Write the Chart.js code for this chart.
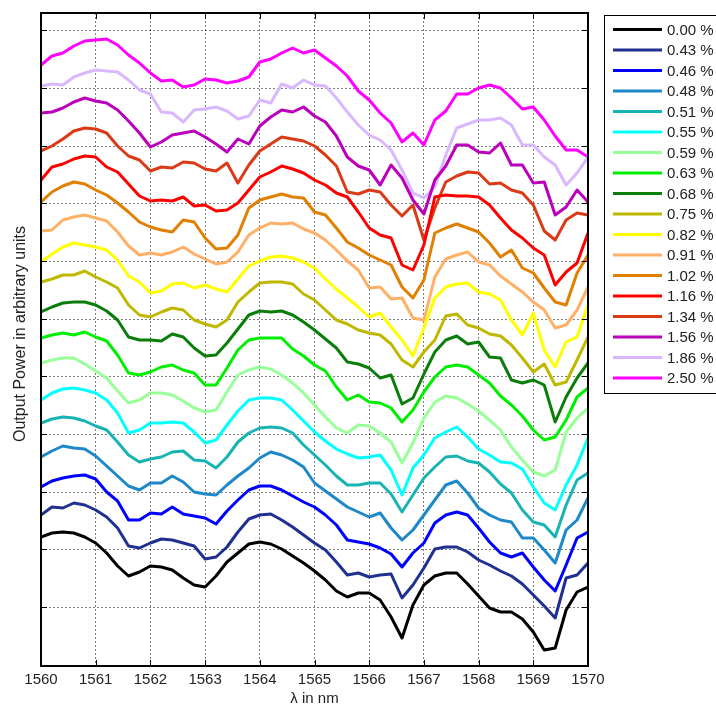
<!DOCTYPE html>
<html>
<head>
<meta charset="utf-8">
<script src="https://cdn.jsdelivr.net/npm/chart.js@4.4.1/dist/chart.umd.min.js"></script>
<style>
  html, body { margin: 0; padding: 0; background: #fff; }
  #wrap { width: 716px; height: 708px; position: relative; overflow: hidden; }
</style>
</head>
<body>
<div id="wrap"><canvas id="spectra"></canvas></div>
<script>
// wavelength grid in nm
const wavelengths = [1560.0, 1560.2, 1560.4, 1560.6, 1560.8, 1561.0, 1561.2, 1561.4, 1561.6, 1561.8,
  1562.0, 1562.2, 1562.4, 1562.6, 1562.8, 1563.0, 1563.2, 1563.4, 1563.6, 1563.8,
  1564.0, 1564.2, 1564.4, 1564.6, 1564.8, 1565.0, 1565.2, 1565.4, 1565.6, 1565.8,
  1566.0, 1566.2, 1566.4, 1566.6, 1566.8, 1567.0, 1567.2, 1567.4, 1567.6, 1567.8,
  1568.0, 1568.2, 1568.4, 1568.6, 1568.8, 1569.0, 1569.2, 1569.4, 1569.6, 1569.8, 1570.0];

const xTicks = [1560, 1561, 1562, 1563, 1564, 1565, 1566, 1567, 1568, 1569, 1570];
// unlabeled y grid positions (arbitrary units)
const yTicks = [59, 117, 174, 232, 290, 347, 405, 463, 520, 578, 636];

const strainLabels = ['0.00 %', '0.43 %', '0.46 %', '0.48 %', '0.51 %', '0.55 %', '0.59 %', '0.63 %', '0.68 %',
  '0.75 %', '0.82 %', '0.91 %', '1.02 %', '1.16 %', '1.34 %', '1.56 %', '1.86 %', '2.50 %'];

const lineColors = ['#000000', '#1f3091', '#0000ff', '#1e88c8', '#18b4b4', '#00ffff', '#99ff99', '#00ee00', '#0b7d0b',
  '#bfb800', '#ffff00', '#ffb066', '#e07f00', '#ff0000', '#db3a16', '#bb00bb', '#d9b8ff', '#ff00ff'];

// output power, arbitrary units (offset traces)
const p000 = [129,133,134,133,129,123,113,100,90,94,100,99,96,88,81,79,90,104,113,122,124,122,117,110,103,95,86,75,69,73,73,66,49,28,61,81,90,93,93,82,70,58,54,54,47,34,16,18,56,74,79];
const p043 = [151,159,158,163,161,156,149,138,120,118,123,127,126,123,120,107,109,119,134,147,151,152,146,139,131,123,116,104,91,93,89,91,92,68,81,98,117,119,119,114,106,101,95,90,82,71,60,48,88,91,103];
const p046 = [179,185,188,190,191,187,174,165,146,146,153,152,159,152,150,148,142,155,166,176,180,180,176,170,164,159,151,141,126,124,122,118,112,99,113,123,143,151,154,151,138,124,113,109,113,99,86,75,101,128,134];
const p048 = [209,215,220,218,217,210,200,190,180,176,183,183,190,184,174,172,171,181,190,198,208,214,211,206,199,183,175,167,159,154,149,153,138,126,136,151,166,181,185,173,158,151,146,144,128,128,116,103,136,146,168];
const p051 = [243,247,249,248,245,240,236,224,211,204,207,209,214,215,206,205,198,209,224,233,238,239,238,233,221,211,201,190,181,181,183,183,172,154,171,188,199,209,210,205,203,194,182,173,156,144,141,129,161,186,193];
const p055 = [266,273,277,278,276,273,266,253,233,236,243,243,244,243,234,223,226,241,255,266,268,268,266,256,245,234,225,217,212,208,209,211,196,171,198,211,228,234,239,229,217,211,204,203,197,179,163,156,181,201,228];
const p059 = [303,306,308,308,302,295,288,275,263,266,273,273,271,265,258,254,256,274,291,296,299,297,291,283,273,261,249,238,233,241,240,233,224,203,223,248,264,270,268,262,255,246,236,219,206,194,190,196,234,248,258];
const p063 = [328,331,333,331,334,329,325,311,293,291,294,299,301,296,293,281,281,298,316,326,328,328,328,317,310,301,295,279,266,271,264,263,258,244,256,274,289,299,301,299,291,283,270,261,250,236,226,229,246,269,278];
const p068 = [354,359,363,364,364,361,355,346,329,326,326,325,332,329,318,310,311,323,337,351,355,354,355,351,344,336,327,318,304,302,298,288,291,262,268,292,314,326,330,322,324,309,308,286,283,286,281,244,269,288,303];
const p075 = [384,387,391,391,395,389,384,378,361,351,349,354,358,356,346,342,339,346,364,374,383,384,384,382,372,366,356,346,342,336,333,331,322,306,299,314,326,350,352,341,338,332,330,321,308,294,302,281,284,306,329];
const p082 = [404,412,419,423,421,419,416,406,390,384,373,375,382,383,378,381,377,374,387,400,405,409,410,408,404,398,387,377,368,359,349,353,339,326,310,338,368,379,382,383,374,372,366,346,331,353,316,299,324,329,361];
const p091 = [435,436,446,449,451,448,445,434,420,411,413,411,414,419,412,407,402,404,414,431,438,443,442,443,437,433,426,416,405,396,378,379,367,368,348,346,389,407,411,414,404,401,390,382,374,364,356,338,341,356,379];
const p102 = [464,474,480,484,482,476,471,463,454,444,439,436,434,446,444,428,417,418,431,458,466,469,472,469,468,454,451,438,424,418,411,406,401,379,368,386,433,438,442,438,434,423,409,416,398,393,378,364,361,393,411];
const p116 = [486,499,502,507,510,509,499,494,482,470,465,466,465,469,460,461,455,456,463,476,489,494,500,497,493,486,481,473,469,454,438,431,428,401,396,421,469,471,470,470,469,461,448,436,428,418,411,381,394,403,433];
const p134 = [515,520,527,535,538,537,533,520,510,506,495,499,498,504,503,497,495,503,483,501,515,522,529,527,525,520,511,500,474,472,476,474,461,450,461,426,458,484,490,494,493,482,483,476,473,461,435,426,446,453,451];
const p156 = [553,554,558,564,568,565,563,556,545,533,519,524,531,533,535,529,522,514,527,522,540,549,556,554,559,550,544,530,509,500,496,481,501,488,466,452,486,500,521,521,514,513,523,501,501,483,484,451,459,476,464];
const p186 = [580,582,581,589,593,596,595,594,586,576,572,554,553,544,556,557,559,555,547,550,566,563,582,578,586,581,580,568,554,541,531,526,516,496,473,468,479,511,538,542,546,546,548,541,521,521,509,501,481,493,509];
const p250 = [601,610,613,620,625,626,627,621,611,603,593,585,586,579,581,587,586,583,585,589,604,607,613,618,613,616,608,600,590,575,566,553,543,524,533,521,546,555,572,572,578,581,578,568,557,559,546,530,516,516,509];

const powerSeries = [p000, p043, p046, p048, p051, p055, p059, p063, p068, p075, p082, p091, p102, p116, p134, p156, p186, p250];

const FONT = '"Liberation Sans", Arial, sans-serif';

const axesFrame = {
    id: 'axesFrame',
    afterDraw(chart) {
        const {ctx, chartArea: area, scales: {x, y}} = chart;
        ctx.save();
        // inner tick marks
        ctx.strokeStyle = '#000';
        ctx.lineWidth = 1;
        ctx.beginPath();
        y.ticks.forEach(t => {
            const py = Math.round(y.getPixelForValue(t.value)) + 0.5;
            ctx.moveTo(area.left, py); ctx.lineTo(area.left + 6, py);
            ctx.moveTo(area.right, py); ctx.lineTo(area.right - 6, py);
        });
        x.ticks.forEach(t => {
            const px = Math.round(x.getPixelForValue(t.value)) + 0.5;
            ctx.moveTo(px, area.bottom); ctx.lineTo(px, area.bottom - 6);
            ctx.moveTo(px, area.top); ctx.lineTo(px, area.top + 6);
        });
        ctx.stroke();
        ctx.lineWidth = 2;
        ctx.strokeRect(area.left, area.top, area.right - area.left, area.bottom - area.top);

        // axis titles
        ctx.fillStyle = '#222';
        ctx.font = '15px ' + FONT;
        ctx.textAlign = 'center';
        ctx.textBaseline = 'middle';
        ctx.fillText('λ in nm', (area.left + area.right) / 2, 699);
        ctx.font = '16px ' + FONT;
        ctx.translate(21, 334);
        ctx.rotate(-Math.PI / 2);
        ctx.fillText('Output Power in arbitrary units', 0, 0);
        ctx.restore();

        // legend box
        ctx.save();
        ctx.fillStyle = '#fff';
        ctx.fillRect(604.5, 15.5, 140, 378);
        ctx.strokeStyle = '#000';
        ctx.lineWidth = 1;
        ctx.strokeRect(604.5, 15.5, 140, 378);
        ctx.font = '15px ' + FONT;
        ctx.textAlign = 'left';
        ctx.textBaseline = 'middle';
        chart.data.datasets.forEach((ds, i) => {
            const ry = 29.5 + i * 20.5;
            ctx.strokeStyle = ds.borderColor;
            ctx.lineWidth = 3;
            ctx.beginPath();
            ctx.moveTo(613, ry);
            ctx.lineTo(662, ry);
            ctx.stroke();
            ctx.fillStyle = '#222';
            ctx.fillText(ds.label, 667, ry + 1);
        });
        ctx.restore();
    }
};

const datasets = powerSeries.map((series, i) => ({
    label: strainLabels[i],
    data: wavelengths.map((w, k) => ({x: w, y: series[k]})),
    borderColor: lineColors[i],
    backgroundColor: lineColors[i],
    borderWidth: 3,
    borderJoinStyle: 'round',
    pointRadius: 0,
    tension: 0,
    fill: false
}));

new Chart(document.getElementById('spectra'), {
    type: 'line',
    data: {datasets: datasets},
    plugins: [axesFrame],
    options: {
        responsive: true,
        maintainAspectRatio: false,
        animation: false,
        layout: {padding: {top: 13, right: 128, left: 0, bottom: 0}},
        plugins: {
            legend: {display: false},
            tooltip: {enabled: false}
        },
        scales: {
            x: {
                type: 'linear',
                min: 1560,
                max: 1570,
                afterFit: (scale) => { scale.height = 42; },
                afterBuildTicks: (scale) => { scale.ticks = xTicks.map(v => ({value: v})); },
                ticks: {
                    autoSkip: false,
                    maxRotation: 0,
                    padding: 5,
                    color: '#222',
                    font: {family: FONT, size: 15},
                    callback: (v) => String(v)
                },
                grid: {color: 'rgba(0,0,0,0.5)', lineWidth: 1, drawTicks: false},
                border: {display: false, dash: [2, 2]}
            },
            y: {
                type: 'linear',
                min: 0,
                max: 653,
                afterFit: (scale) => { scale.width = 41; },
                afterBuildTicks: (scale) => { scale.ticks = yTicks.map(v => ({value: v})); },
                ticks: {display: false},
                grid: {color: 'rgba(0,0,0,0.5)', lineWidth: 1, drawTicks: false},
                border: {display: false, dash: [2, 2]}
            }
        }
    }
});
</script>
</body>
</html>
